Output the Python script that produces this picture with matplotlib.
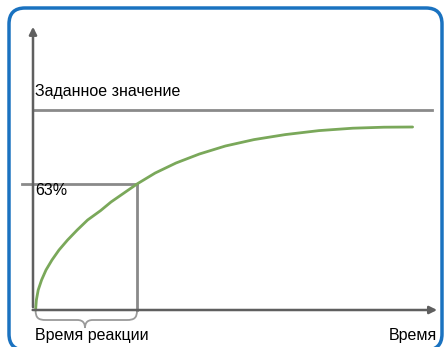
import matplotlib.pyplot as plt
from matplotlib.patches import FancyBboxPatch, PathPatch
from matplotlib.path import Path
from matplotlib.transforms import IdentityTransform

plt.rcParams['font.family'] = ['Liberation Sans', 'DejaVu Sans']

# step response of the sensor (time in arbitrary units, response as fraction of setpoint)
time = [0.1, 0.13, 0.2, 0.33, 0.5, 0.73, 1.0, 1.33, 1.7, 2.1, 2.6, 3.0, 3.5, 4.0,
        4.7, 5.5, 6.4, 7.4, 8.5, 9.7, 11.0, 12.3, 13.5, 14.6]
response = [0.0, 0.05, 0.10, 0.15, 0.20, 0.25, 0.30, 0.35, 0.40, 0.45, 0.497, 0.54, 0.585, 0.63,
            0.685, 0.735, 0.78, 0.82, 0.852, 0.877, 0.897, 0.909, 0.914, 0.915]
setpoint = 1.0
level_63 = 0.63
reaction_time = 4.0
t_end = 15.35

fig = plt.figure(figsize=(4.45, 3.47), dpi=100)
ax = fig.add_axes([0, 0, 1, 1])
ax.set_xlim(-33 / 26, 412 / 26)
ax.set_ylim(-37 / 200, 310 / 200)
ax.axis('off')

axis_col = '#5f5f5f'
line_col = '#8a8a8a'

# axes with arrow heads
ax.annotate('', xy=(15.65, 0), xytext=(-0.12, 0),
            arrowprops=dict(arrowstyle='-|>', mutation_scale=11, lw=1.8, color=axis_col))
ax.annotate('', xy=(0, 1.43), xytext=(0, 0),
            arrowprops=dict(arrowstyle='-|>', mutation_scale=11, lw=1.8, color=axis_col))

# setpoint and 63 % markers
ax.plot([0, t_end], [setpoint, setpoint], color=line_col, lw=2)
ax.plot([-0.42, reaction_time], [level_63, level_63], color=line_col, lw=2)
ax.plot([reaction_time, reaction_time], [0, level_63], color=line_col, lw=2)

# response curve
ax.plot(time, response, color='#7aa85a', lw=2, solid_capstyle='round')

# brace under the reaction time interval
t0 = time[0]
mid = 2.0
verts = [(t0, 0.0), (t0, -0.04), (t0 + 0.1, -0.05), (t0 + 0.4, -0.05),
         (mid - 0.3, -0.05),
         (mid - 0.05, -0.05), (mid, -0.07), (mid, -0.09),
         (mid, -0.07), (mid + 0.05, -0.05), (mid + 0.3, -0.05),
         (reaction_time - 0.4, -0.05),
         (reaction_time - 0.1, -0.05), (reaction_time, -0.04), (reaction_time, 0.0)]
codes = [Path.MOVETO, Path.CURVE4, Path.CURVE4, Path.CURVE4,
         Path.LINETO,
         Path.CURVE4, Path.CURVE4, Path.CURVE4,
         Path.CURVE4, Path.CURVE4, Path.CURVE4,
         Path.LINETO,
         Path.CURVE4, Path.CURVE4, Path.CURVE4]
ax.add_patch(PathPatch(Path(verts, codes), fill=False, edgecolor='#9a9a9a', lw=1.3))

# labels
fs = 11.5
ax.text(0.08, 1.07, 'Заданное значение', fontsize=fs, va='baseline')
ax.text(0.08, 0.575, '63%', fontsize=fs, va='baseline')
ax.text(0.08, -0.15, 'Время реакции', fontsize=fs, va='baseline')
ax.text(15.55, -0.15, 'Время', fontsize=fs, va='baseline', ha='right')

# rounded blue frame
frame = FancyBboxPatch((9, -3), 433, 342, boxstyle='round,pad=0,rounding_size=16',
                       transform=IdentityTransform(), fill=False,
                       edgecolor='#1a72c0', lw=2.5)
fig.patches.append(frame)

fig.savefig('out.png', dpi=100)
